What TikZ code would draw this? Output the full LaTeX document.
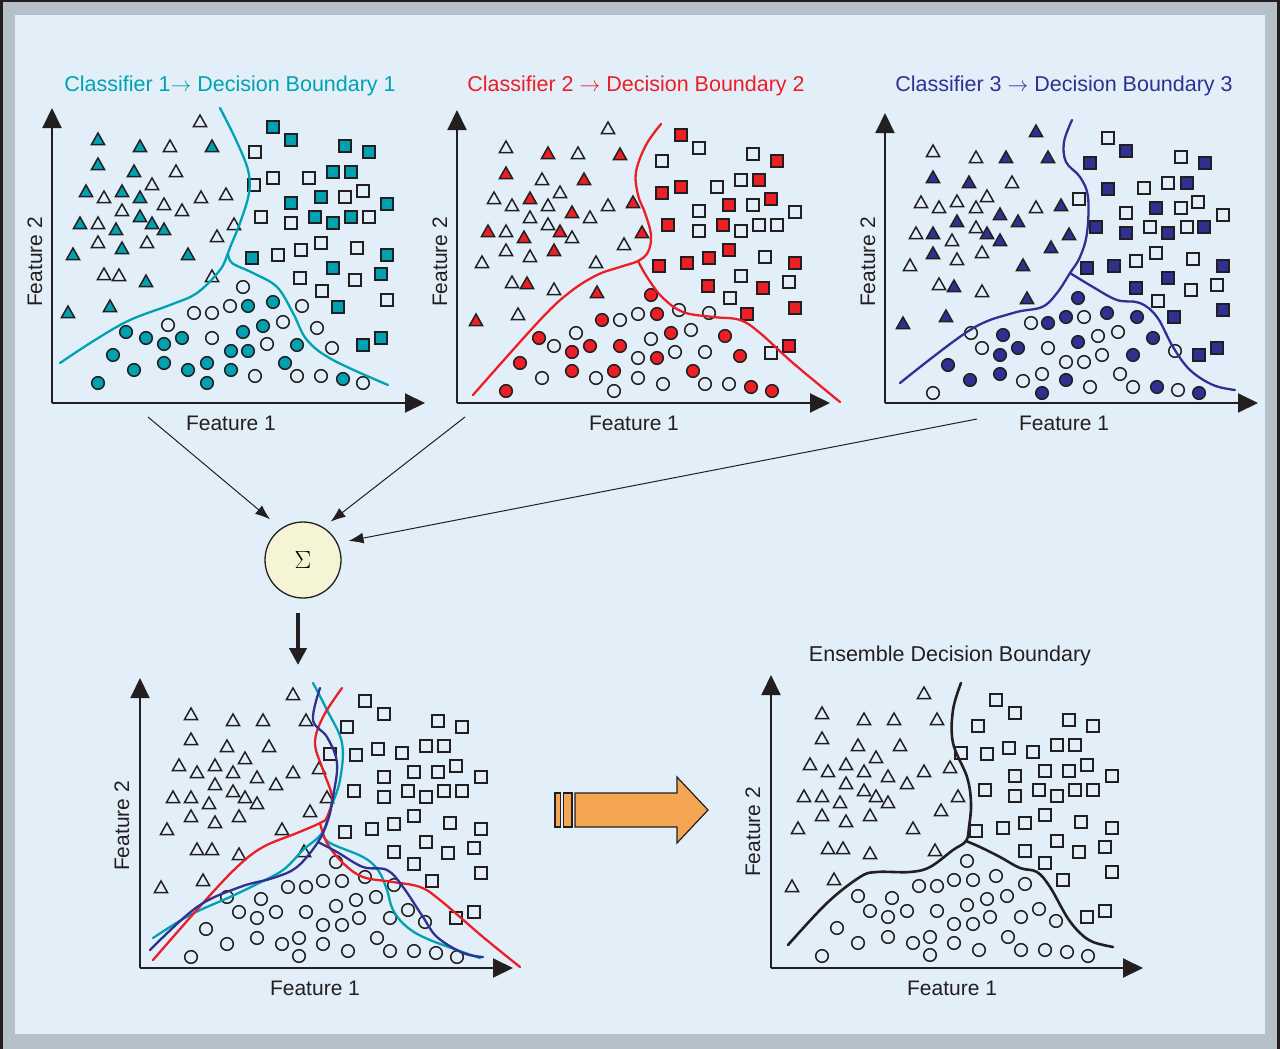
\documentclass[tikz,border=0pt]{standalone}
\usepackage{fontspec}
\setmainfont{Liberation Sans}
\usetikzlibrary{arrows.meta}
\definecolor{ink}{RGB}{35,31,32}
\definecolor{bgblue}{RGB}{226,239,249}
\definecolor{framegray}{RGB}{181,192,201}
\definecolor{cTeal}{RGB}{0,162,178}
\definecolor{cRed}{RGB}{236,30,38}
\definecolor{cNavy}{RGB}{46,49,146}
\definecolor{sigfill}{RGB}{245,244,212}
\definecolor{cOrange}{RGB}{244,166,83}
\colorlet{H}{bgblue}
\colorlet{F}{bgblue}
\newcommand\Tris[1]{\foreach \x/\y/\f in {#1} \draw[mk,fill=\f] (\x,\y-7) -- (\x+6.5,\y+4.5) -- (\x-6.5,\y+4.5) -- cycle;}
\newcommand\Sqs[1]{\foreach \x/\y/\f in {#1} \draw[mk,fill=\f] (\x-6,\y-6) rectangle (\x+6,\y+6);}
\newcommand\Circs[1]{\foreach \x/\y/\f in {#1} \draw[mk,fill=\f] (\x,\y) circle (6.3);}
\newcommand\BottomData{%
\Tris{293/695/H, 191/715/H, 233/721/H, 263/721/H, 306/721/H, 191/740/H, 227/747/H, 269/747/H, 245/759/H, 179/766/H, 197/773/H, 215/766/H, 233/773/H, 257/778/H, 276/785/H, 293/773/H, 319/769/H, 215/785/H, 173/798/H, 191/798/H, 209/804/H, 233/792/H, 245/798/H, 257/804/H, 327/798/H, 191/817/H, 215/823/H, 239/817/H, 310/812/H, 167/830/H, 282/830/H, 197/850/H, 212/850/H, 239/855/H, 304/852/H, 161/888/H, 203/881/H}
\Sqs{365/701/H, 384/714/H, 347/727/H, 438/721/H, 462/727/H, 356/755/H, 378/749/H, 402/753/H, 426/746/H, 444/746/H, 330/754/H, 456/766/H, 384/777/H, 414/772/H, 438/772/H, 481/777/H, 354/791/H, 384/797/H, 408/791/H, 426/797/H, 444/791/H, 462/791/H, 414/816/H, 394/824/H, 372/829/H, 345/832/H, 450/823/H, 481/829/H, 426/842/H, 394/852/H, 448/853/H, 474/848/H, 414/864/H, 432/881/H, 481/873/H, 456/918/H, 474/912/H}
\Circs{336/862/H, 288/887/H, 306/887/H, 323/881/H, 342/881/H, 365/877/H, 394/885/H, 227/897/H, 261/899/H, 239/912/H, 257/918/H, 276/912/H, 306/912/H, 336/906/H, 356/900/H, 376/897/H, 408/910/H, 206/929/H, 323/925/H, 342/925/H, 359/918/H, 390/918/H, 425/922/H, 227/944/H, 257/938/H, 282/944/H, 299/938/H, 323/944/H, 377/938/H, 191/957/H, 299/956/H, 348/951/H, 390/951/H, 414/951/H, 436/953/H, 457/957/H}}
\begin{document}
\begin{tikzpicture}[x=1pt,y=-1pt,
  mk/.style={draw=ink,line width=1.5pt},
  axis/.style={draw=ink,line width=2pt,-{Triangle[length=20pt,width=19pt]}},
  bnd/.style={line width=2.3pt,line cap=round},
  lbl/.style={text=ink,font=\fontsize{21}{25}\selectfont,inner sep=0pt},
  ttl/.style={font=\fontsize{21.5}{25}\selectfont,inner sep=0pt},
  conn/.style={draw=ink,line width=1pt,-{Latex[length=15pt,width=11pt]}}]
\useasboundingbox (0,0) rectangle (1280,1049);
% frame
\fill[framegray] (0,0) rectangle (1280,1049);
\fill[ink] (0,0) rectangle (2.5,1049);
\fill[ink] (1277,0) rectangle (1280,1049);
\fill[ink] (0,0) rectangle (1280,2.5);
\fill[bgblue] (15,15) rectangle (1265,1034);

% ---------- Panel 1 ----------
\begin{scope}
\colorlet{F}{cTeal}
\Tris{200/122/H, 98/140/F, 140/147/F, 170/147/H, 212/147/F, 98/165/F, 134/172/F, 176/172/H, 152/185/H, 86/192/F, 104/198/H, 122/192/F, 140/198/F, 164/205/H, 182/211/H, 201/198/H, 226/195/H, 122/211/H, 80/224/F, 98/224/H, 116/230/F, 140/217/F, 152/224/F, 164/230/F, 234/225/H, 98/243/H, 122/249/F, 147/243/H, 217/237/H, 73/255/F, 188/255/F, 104/275/H, 119/276/H, 146/282/F, 212/277/H, 68/313/F, 110/307/F}
\Sqs{273/127/F, 291/140/F, 255/152/H, 345/146/F, 369/152/F, 273/178/H, 309/178/H, 333/172/F, 351/172/F, 254/185/H, 363/191/H, 291/203/F, 321/197/F, 345/197/H, 387/204/F, 261/217/H, 291/223/H, 315/217/F, 333/223/F, 351/217/F, 369/217/H, 321/243/H, 301/250/H, 278/255/H, 252/258/F, 357/248/H, 387/255/F, 333/268/F, 300/278/H, 355/280/H, 381/274/F, 322/291/H, 338/307/F, 387/300/H, 363/345/F, 381/338/F}
\Circs{243/287/H, 194/313/H, 212/313/H, 230/306/H, 248/306/F, 273/302/F, 302/306/H, 168/325/H, 126/332/F, 146/338/F, 164/344/F, 182/338/F, 212/338/H, 243/332/F, 263/326/F, 283/322/H, 317/328/H, 113/355/F, 231/351/F, 248/351/F, 267/344/H, 297/345/F, 332/348/H, 134/370/F, 164/363/F, 188/370/F, 207/363/F, 231/370/F, 285/363/F, 98/383/F, 207/383/F, 255/376/H, 297/376/H, 321/376/H, 343/379/F, 363/383/H}
\draw[bnd,cTeal] plot[smooth,tension=0.6] coordinates {(220,108) (236,140) (248,170) (249,193) (240,223) (231,245) (228,253) (220,270) (197,293) (170,305) (130,320) (95,340) (60,363)};
\draw[bnd,cTeal] plot[smooth,tension=0.6] coordinates {(228,253) (232,263) (253,273) (277,287) (293,313) (307,340) (333,360) (388,385)};
\end{scope}
\coordinate (p1o) at (52,403);
\coordinate (p1y) at (52,108);
\coordinate (p1x) at (425,403);
\draw[axis] (p1o) -- (p1y);
\draw[axis] (p1o) -- (p1x);
\node[ttl,text=cTeal] (t1) at (230,86) {Classifier 1$\rightarrow$ Decision Boundary 1};
\node[lbl] (f1a) at (231,423) {Feature 1};
\node[lbl,rotate=90] (f1b) at (35,262) {Feature 2};

% ---------- Panel 2 ----------
\begin{scope}
\colorlet{F}{cRed}
\Tris{608/129/H, 506/148/H, 548/154/F, 578/154/H, 620/155/F, 506/174/F, 542/180/H, 584/180/F, 560/193/H, 494/199/H, 512/206/H, 530/199/F, 548/206/H, 572/213/F, 590/218/H, 608/206/H, 633/203/F, 530/218/H, 488/232/F, 506/232/H, 524/238/F, 548/225/H, 560/232/F, 572/238/H, 642/233/F, 506/251/H, 530/257/H, 554/251/F, 624/245/H, 482/263/H, 596/263/H, 512/283/H, 527/284/F, 554/290/H, 597/293/F, 476/321/F, 518/315/H}
\Sqs{681/135/F, 699/148/H, 662/161/H, 753/154/H, 777/161/F, 681/187/F, 662/193/F, 717/187/H, 741/180/H, 759/180/F, 771/199/F, 699/211/H, 729/205/F, 753/205/H, 795/212/H, 668/225/F, 699/231/H, 723/225/F, 741/231/H, 759/225/H, 777/225/H, 729/250/F, 709/258/F, 687/263/F, 659/266/F, 765/257/H, 795/263/F, 741/276/H, 708/286/F, 763/288/F, 789/282/H, 730/298/H, 747/314/F, 795/308/F, 771/353/H, 789/346/F}
\Circs{651/295/F, 602/320/F, 620/320/H, 638/314/H, 657/314/F, 679/310/H, 709/313/H, 576/333/H, 539/338/F, 554/346/H, 572/352/F, 590/346/F, 620/346/F, 651/339/H, 671/333/F, 691/330/H, 725/336/F, 520/363/F, 638/358/H, 657/358/F, 675/352/H, 705/352/H, 740/356/F, 542/378/H, 572/371/F, 596/378/H, 614/371/F, 638/378/H, 693/371/F, 506/391/F, 614/391/H, 663/384/H, 705/384/H, 729/384/H, 751/387/F, 772/391/F}
\draw[bnd,cRed] plot[smooth,tension=0.6] coordinates {(661,124) (646,145) (636,172) (638,195) (645,213) (651,235) (648,252) (638,261) (620,267) (597,275) (570,292) (540,320) (473,395)};
\draw[bnd,cRed] plot[smooth,tension=0.6] coordinates {(638,261) (647,277) (662,297) (683,312) (713,317) (740,320) (760,333) (793,363) (840,402)};
\end{scope}
\coordinate (p2o) at (457,403);
\coordinate (p2y) at (457,110);
\coordinate (p2x) at (830,403);
\draw[axis] (p2o) -- (p2y);
\draw[axis] (p2o) -- (p2x);
\node[ttl,text=cRed] (t2) at (636,86) {Classifier 2 $\rightarrow$ Decision Boundary 2};
\node[lbl] (f2a) at (634,423) {Feature 1};
\node[lbl,rotate=90] (f2b) at (440,262) {Feature 2};

% ---------- Panel 3 ----------
\begin{scope}
\colorlet{F}{cNavy}
\Tris{1036/132/F, 933/152/H, 976/158/H, 1006/158/F, 1048/158/F, 933/178/F, 969/183/F, 1012/183/H, 987/197/H, 921/203/H, 939/208/H, 957/202/H, 976/208/H, 1000/215/F, 1018/222/F, 1036/208/H, 1061/206/F, 957/222/F, 916/234/H, 933/234/F, 952/241/H, 976/228/H, 987/234/F, 1000/241/F, 1069/235/F, 933/254/F, 957/260/H, 982/253/H, 1051/248/F, 910/266/H, 1023/266/F, 939/285/H, 954/287/F, 982/292/H, 1027/299/F, 903/324/F, 946/317/F}
\Sqs{1108/138/H, 1126/151/F, 1090/163/F, 1181/157/H, 1205/163/F, 1108/189/F, 1079/199/H, 1144/188/H, 1168/183/H, 1187/183/F, 1198/202/H, 1126/213/H, 1156/208/F, 1181/208/H, 1223/215/H, 1096/227/F, 1126/233/F, 1150/227/H, 1168/233/F, 1187/227/H, 1204/227/F, 1156/253/H, 1136/261/H, 1114/266/F, 1087/268/F, 1193/259/H, 1223/266/F, 1168/278/F, 1136/288/F, 1191/290/H, 1217/285/H, 1158/301/H, 1174/317/F, 1223/310/F, 1199/355/F, 1217/348/F}
\Circs{1078/298/F, 1031/323/H, 1048/323/F, 1066/317/F, 1084/317/H, 1107/313/F, 1137/317/F, 971/333/H, 1003/335/F, 982/348/H, 1000/355/F, 1018/348/F, 1048/348/H, 1078/342/F, 1098/336/H, 1118/332/H, 1153/338/F, 948/365/F, 1066/362/H, 1084/362/H, 1102/355/H, 1133/355/F, 1175/351/H, 970/380/F, 1000/374/F, 1023/381/H, 1042/374/H, 1066/380/F, 1120/374/H, 933/393/H, 1042/393/F, 1090/387/H, 1133/387/H, 1157/387/F, 1178/390/H, 1199/393/F}
\draw[bnd,cNavy] plot[smooth,tension=0.6] coordinates {(1072,120) (1064,142) (1066,162) (1080,177) (1088,197) (1087,233) (1080,257) (1070,273) (1057,293) (1042,307) (1013,313) (970,330) (900,383)};
\draw[bnd,cNavy] plot[smooth,tension=0.6] coordinates {(1070,273) (1093,287) (1117,300) (1140,303) (1157,317) (1173,347) (1190,370) (1213,385) (1235,390)};
\end{scope}
\coordinate (p3o) at (885,403);
\coordinate (p3y) at (885,113);
\coordinate (p3x) at (1258,403);
\draw[axis] (p3o) -- (p3y);
\draw[axis] (p3o) -- (p3x);
\node[ttl,text=cNavy] (t3) at (1064,86) {Classifier 3 $\rightarrow$ Decision Boundary 3};
\node[lbl] (f3a) at (1064,423) {Feature 1};
\node[lbl,rotate=90] (f3b) at (868,262) {Feature 2};

% ---------- Sigma ----------
\node[circle,draw=ink,line width=1.3pt,fill=sigfill,minimum size=76pt,inner sep=0pt,font=\fontsize{25}{29}\selectfont] (sigma) at (303,560) {$\Sigma$};
\coordinate (s1) at (148,417);
\coordinate (s2) at (465,417);
\coordinate (s3) at (977,419);
\draw[conn,shorten >=14pt] (s1) -- (sigma.125.8);
\draw[conn,shorten >=9pt] (s2) -- (sigma.58.6);
\draw[conn,shorten >=11pt] (s3) -- (sigma.26.4);
\coordinate (d1) at (298,613);
\coordinate (d2) at (298,665);
\draw[draw=ink,line width=4.5pt,-{Triangle[length=17pt,width=17pt]}] (d1) -- (d2);

% ---------- Bottom left ----------
\BottomData
\draw[bnd,cTeal] plot[smooth,tension=0.6] coordinates {(313,683) (327,710) (342,743) (340,780) (330,810) (322,833) (303,850) (283,870) (255,885) (230,897) (190,915) (153,938)};
\draw[bnd,cTeal] plot[smooth,tension=0.6] coordinates {(322,833) (330,843) (363,857) (378,870) (387,890) (393,910) (407,927) (430,940) (480,958)};
\draw[bnd,cRed] plot[smooth,tension=0.6] coordinates {(342,688) (323,717) (315,743) (323,770) (332,797) (327,817) (320,823) (297,833) (263,847) (237,867) (203,903) (153,960)};
\draw[bnd,cRed] plot[smooth,tension=0.6] coordinates {(320,823) (327,843) (343,863) (363,877) (393,882) (420,887) (440,900) (483,937) (520,967)};
\draw[bnd,cNavy] plot[smooth,tension=0.6] coordinates {(320,688) (313,720) (327,737) (337,763) (333,797) (328,820) (318,842) (297,867) (273,878) (240,887) (197,907) (150,950)};
\draw[bnd,cNavy] plot[smooth,tension=0.6] coordinates {(318,842) (337,852) (363,867) (387,870) (403,887) (423,917) (437,937) (463,953) (483,957)};
\coordinate (p4o) at (140,968);
\coordinate (p4y) at (140,678);
\coordinate (p4x) at (513,968);
\draw[axis] (p4o) -- (p4y);
\draw[axis] (p4o) -- (p4x);
\node[lbl] (f4a) at (315,988) {Feature 1};
\node[lbl,rotate=90] (f4b) at (122,826) {Feature 2};

% ---------- Orange arrow ----------
\draw[ink,line width=1.2pt,fill=cOrange] (555,793) rectangle (560.5,827);
\draw[ink,line width=1.2pt,fill=cOrange] (563.5,793) rectangle (572,827);
\draw[ink,line width=1.2pt,fill=cOrange,line join=miter] (575,793) -- (677,793) -- (677,777) -- (708,810) -- (677,843) -- (677,827) -- (575,827) -- cycle;

% ---------- Bottom right ----------
\begin{scope}[shift={(631,-1)}]
\BottomData
\end{scope}
\draw[bnd,ink,line width=2.6pt] plot[smooth,tension=0.6] coordinates {(961,683) (953,710) (953,743) (967,777) (971,803) (969,827) (966,841) (953,850) (930,867) (910,872) (877,872) (860,877) (827,903) (788,945)};
\draw[bnd,ink,line width=2.6pt] plot[smooth,tension=0.6] coordinates {(966,841) (980,847) (1000,857) (1020,868) (1037,872) (1050,887) (1067,917) (1080,933) (1093,942) (1113,947)};
\coordinate (p5o) at (771,968);
\coordinate (p5y) at (771,675);
\coordinate (p5x) at (1143,968);
\draw[axis] (p5o) -- (p5y);
\draw[axis] (p5o) -- (p5x);
\node[ttl,text=ink] (t5) at (950,656) {Ensemble Decision Boundary};
\node[lbl] (f5a) at (952,988) {Feature 1};
\node[lbl,rotate=90] (f5b) at (753,832) {Feature 2};
\end{tikzpicture}
\end{document}
